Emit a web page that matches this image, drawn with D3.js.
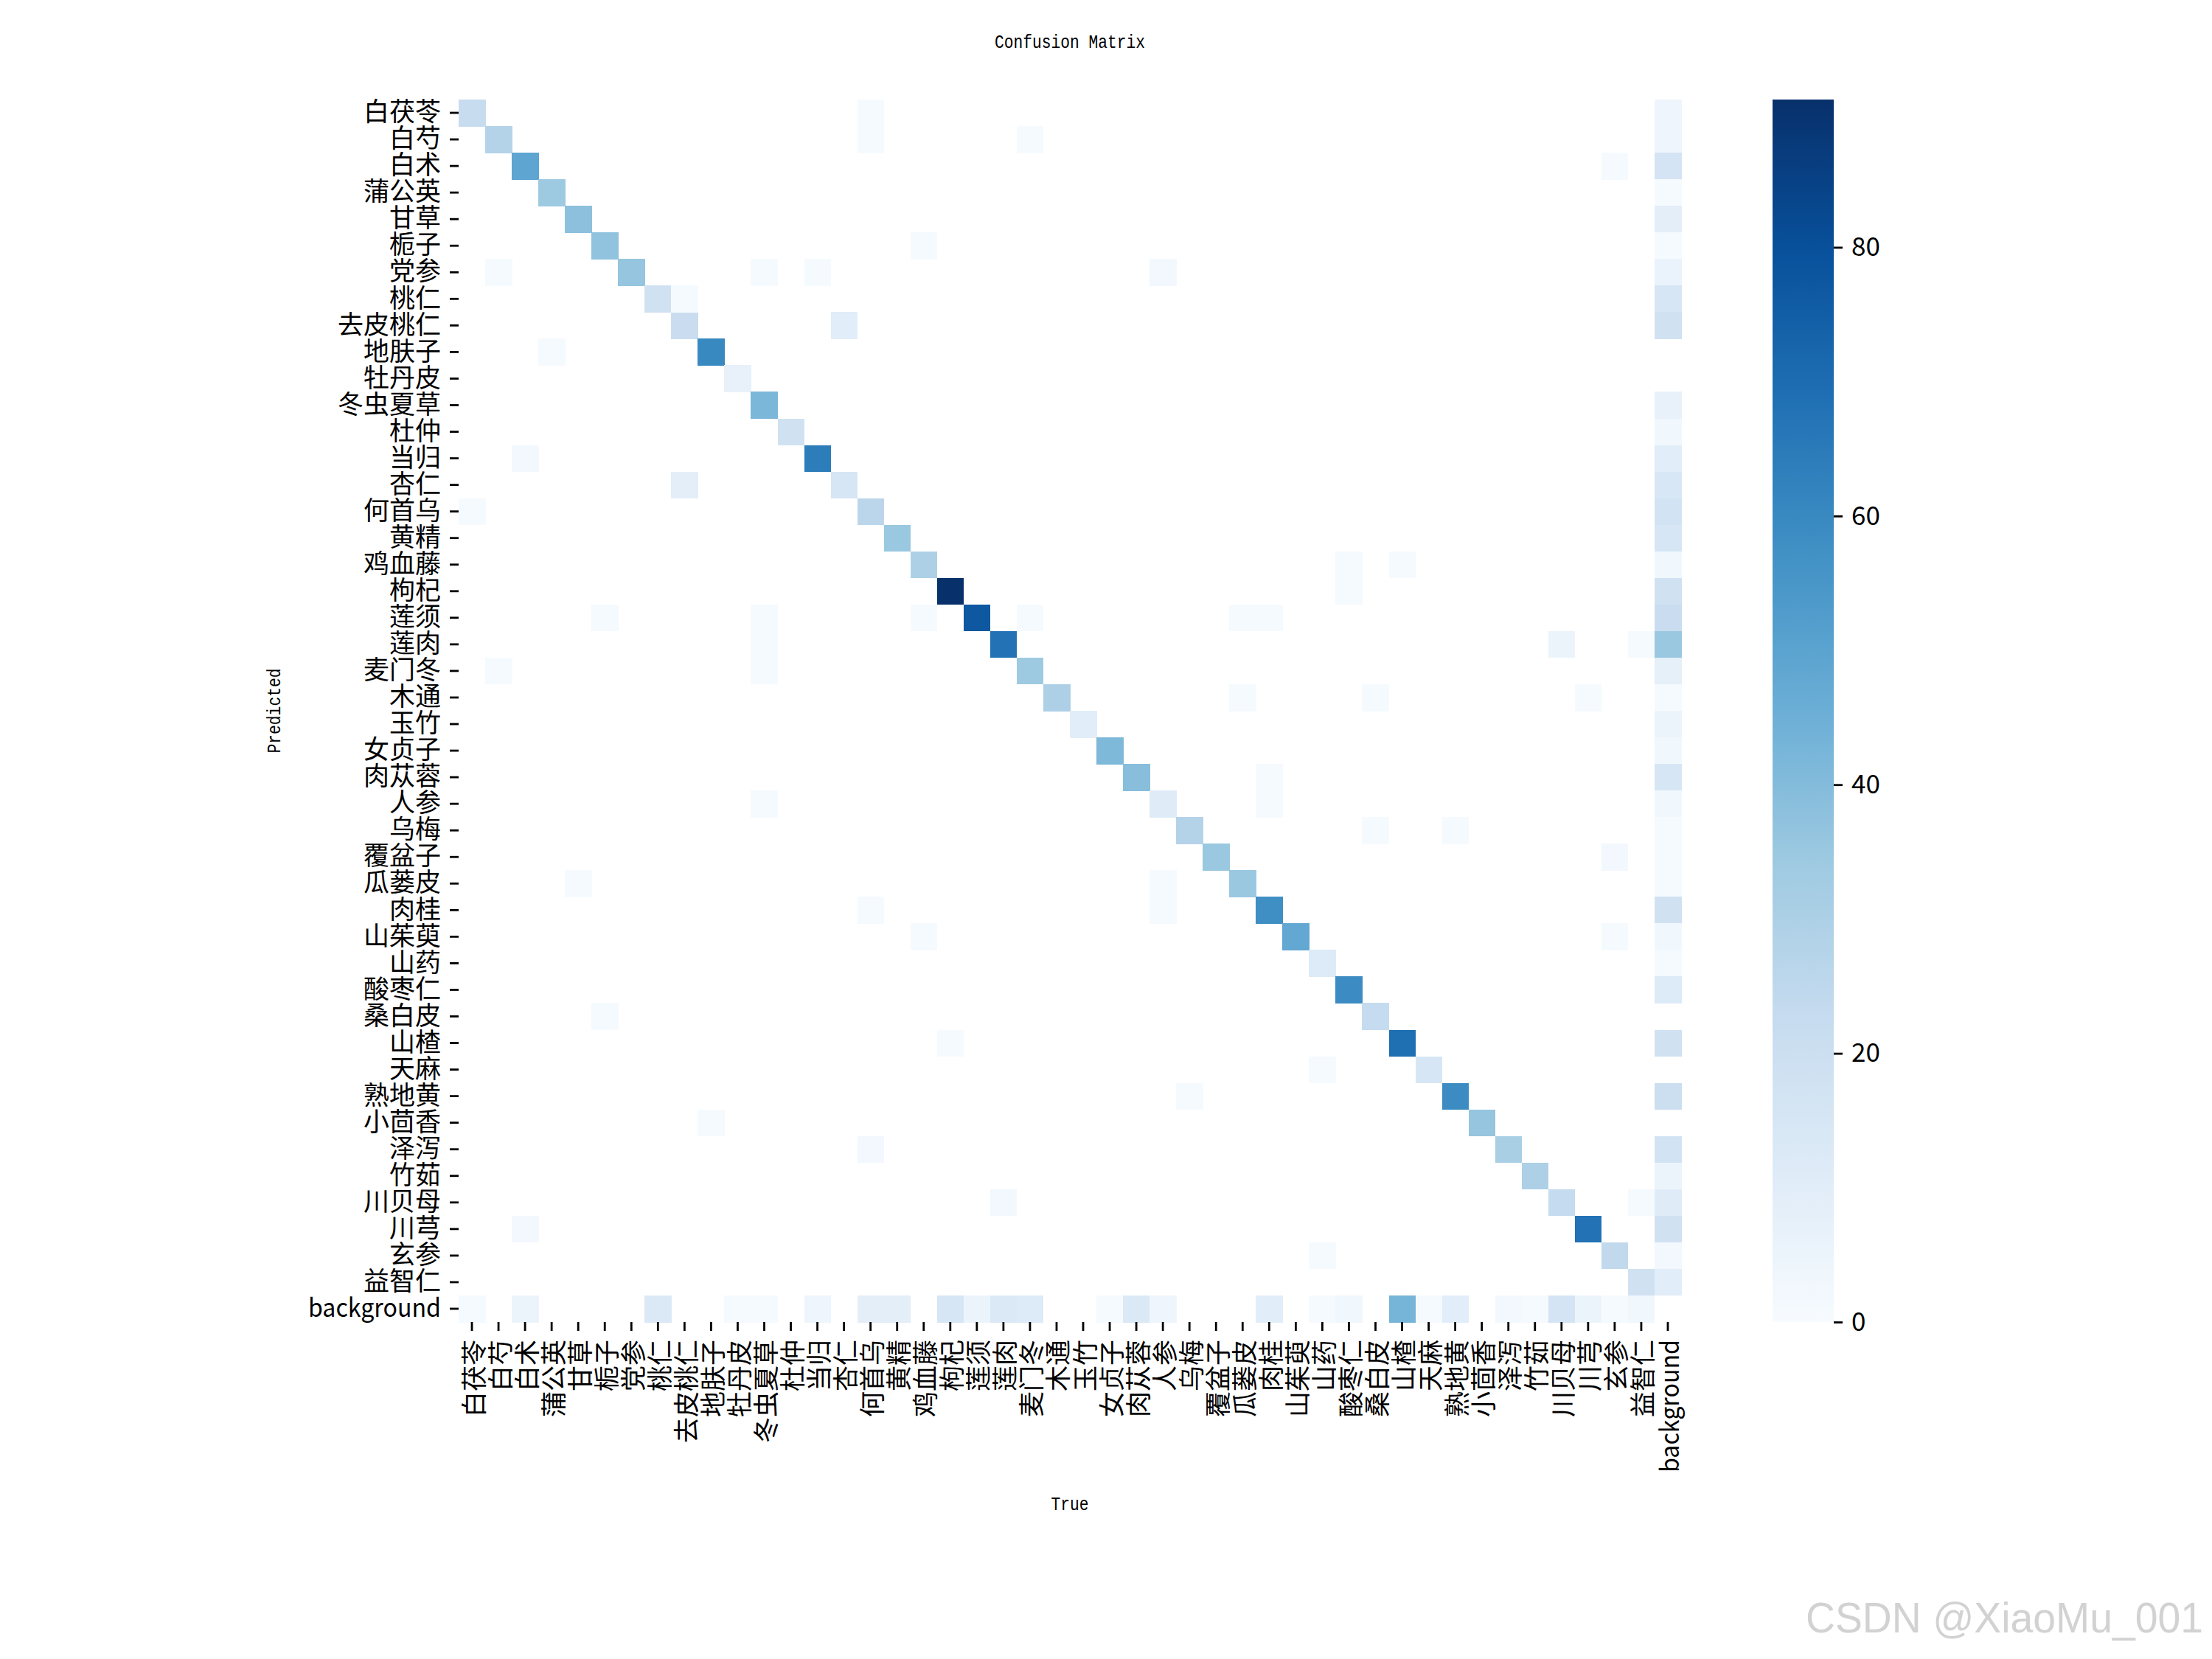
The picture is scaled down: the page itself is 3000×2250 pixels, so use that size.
<!DOCTYPE html>
<html>
<head>
<meta charset="utf-8">
<script src="https://cdn.jsdelivr.net/npm/d3@7"></script>
<style>
  html, body { margin: 0; padding: 0; background: #ffffff; }
  svg { display: block; }
</style>
</head>
<body>
<script>
// ---------------- DATA ----------------
const categories = ["白茯苓","白芍","白术","蒲公英","甘草","栀子","党参","桃仁","去皮桃仁","地肤子",
  "牡丹皮","冬虫夏草","杜仲","当归","杏仁","何首乌","黄精","鸡血藤","枸杞","莲须",
  "莲肉","麦门冬","木通","玉竹","女贞子","肉苁蓉","人参","乌梅","覆盆子","瓜蒌皮",
  "肉桂","山茱萸","山药","酸枣仁","桑白皮","山楂","天麻","熟地黄","小茴香","泽泻",
  "竹茹","川贝母","川芎","玄参","益智仁","background"];

// correct predictions (Predicted i, True i), classes 0..44
const diagonal = [22,28,49,34,38,37,36,18,21,60, 7,42,18,64,15,26,35,30,91,77,
  68,34,30,10,41,39,11,28,35,35, 58,48,12,59,23,69,15,59,36,31, 30,23,68,24,18];

// last column: predicted class i, true = background (rows 0..44)
const backgroundColumn = [4,4,16,1,9,1,6,15,18,0, 0,7,3,10,14,17,15,3,18,21,
  35,8,1,5,3,15,3,1,1,1, 18,3,1,12,0,18,0,20,0,17, 5,11,18,2,10];

// last row: predicted background, true class j (cols 0..44)
const backgroundRow = [1,0,5,0,0,0,0,13,0,0, 1,1,0,4,0,9,9,0,15,5,
  13,12,0,0,1,13,4,0,0,0, 10,0,1,3,0,43,1,10,0,2, 1,16,5,1,3];

// other confusions: [predicted row, true column, count]
const offDiagonal = [
  [0,15,1],[1,15,1],[1,21,1],[2,43,1],[5,17,1],[6,1,1],[6,11,1],[6,13,1],[6,26,2],
  [7,8,1],[8,14,10],[9,3,1],[13,2,2],[14,8,9],[15,0,1],[17,33,1],[17,35,1],[18,33,1],
  [19,5,1],[19,11,1],[19,17,1],[19,21,1],[19,29,1],[19,30,1],[20,11,1],[20,41,5],[20,44,1],
  [21,1,1],[21,11,1],[22,29,1],[22,34,1],[22,42,1],[25,30,1],[26,11,1],[26,30,1],
  [27,34,1],[27,37,1],[28,43,2],[29,4,1],[29,26,1],[30,15,1],[30,26,1],[31,17,1],[31,43,1],
  [34,5,1],[35,18,1],[36,32,1],[37,27,1],[38,9,1],[39,15,2],[41,20,2],[41,44,1],[42,2,2],[43,32,1]
];

const colorbarTicks = [0,20,40,60,80];
const blues = ["#f7fbff","#deebf7","#c6dbef","#9ecae1","#6baed6","#4292c6","#2171b5","#08519c","#08306b"];

(function draw() {
  // ---------------- BUILD MATRIX ----------------
  const n = categories.length;
  const cells = [];
  diagonal.forEach((v,i) => cells.push({r:i, c:i, v}));
  backgroundColumn.forEach((v,i) => cells.push({r:i, c:n-1, v}));
  backgroundRow.forEach((v,j) => cells.push({r:n-1, c:j, v}));
  offDiagonal.forEach(([r,c,v]) => cells.push({r, c, v}));
  const nonZero = cells.filter(d => d.v > 0);
  const vmax = d3.max(nonZero, d => d.v);

  // ---------------- LAYOUT ----------------
  const W = 3000, H = 2250;
  const mLeft = 622, mRight = 2280, mTop = 135, mBottom = 1793;
  const cbLeft = 2404, cbRight = 2487;
  const cjk = "'Noto Sans CJK SC', 'Noto Sans', sans-serif";
  const mono = "'Liberation Mono', 'DejaVu Sans Mono', monospace";

  const svg = d3.select("body").append("svg").attr("width", W).attr("height", H)
    .style("background", "#fff");

  const x = d3.scaleBand().domain(d3.range(n)).range([mLeft, mRight]);
  const y = d3.scaleBand().domain(d3.range(n)).range([mTop, mBottom]);
  const color = d3.scaleLinear()
    .domain(blues.map((_, i) => i / (blues.length - 1) * vmax))
    .range(blues)
    .interpolate(d3.interpolateRgb)
    .clamp(true);

  // cells
  svg.append("g").selectAll("rect").data(nonZero).join("rect")
    .attr("x", d => x(d.c))
    .attr("y", d => y(d.r))
    .attr("width", x.bandwidth() + 0.5)
    .attr("height", y.bandwidth() + 0.5)
    .attr("fill", d => color(d.v))
    .attr("shape-rendering", "crispEdges");

  // y axis
  const yAxis = svg.append("g").attr("transform", `translate(${mLeft},0)`)
    .call(d3.axisLeft(y).tickFormat(i => categories[i]).tickSize(12).tickPadding(12));
  yAxis.select(".domain").remove();
  yAxis.selectAll(".tick line").attr("stroke", "#000").attr("stroke-width", 2.8);
  yAxis.selectAll(".tick text").attr("font-family", cjk).attr("font-size", 35).attr("fill", "#000")
    .filter(i => i === n - 1)
    .attr("textLength", 180).attr("lengthAdjust", "spacingAndGlyphs");

  // x axis
  const xAxis = svg.append("g").attr("transform", `translate(0,${mBottom})`)
    .call(d3.axisBottom(x).tickFormat(i => categories[i]).tickSize(12).tickPadding(12));
  xAxis.select(".domain").remove();
  xAxis.selectAll(".tick line").attr("stroke", "#000").attr("stroke-width", 2.8);
  xAxis.selectAll(".tick text")
    .attr("font-family", cjk).attr("font-size", 35).attr("fill", "#000")
    .attr("text-anchor", "end")
    .attr("dy", null)
    .attr("y", 0)
    .attr("dominant-baseline", "central")
    .attr("transform", "translate(0,24) rotate(-90)")
    .filter(i => i === n - 1)
    .attr("textLength", 180).attr("lengthAdjust", "spacingAndGlyphs");

  // colorbar
  const defs = svg.append("defs");
  const grad = defs.append("linearGradient").attr("id", "cbgrad")
    .attr("x1", 0).attr("y1", 1).attr("x2", 0).attr("y2", 0);
  d3.range(0, 101).forEach(k => {
    grad.append("stop").attr("offset", k / 100).attr("stop-color", color(k / 100 * vmax));
  });
  svg.append("rect").attr("x", cbLeft).attr("y", mTop)
    .attr("width", cbRight - cbLeft).attr("height", mBottom - mTop)
    .attr("fill", "url(#cbgrad)");
  const cbScale = d3.scaleLinear().domain([0, vmax]).range([mBottom, mTop]);
  const cbAxis = svg.append("g").attr("transform", `translate(${cbRight},0)`)
    .call(d3.axisRight(cbScale).tickValues(colorbarTicks).tickSize(12).tickPadding(12));
  cbAxis.select(".domain").remove();
  cbAxis.selectAll(".tick line").attr("stroke", "#000").attr("stroke-width", 2.8);
  cbAxis.selectAll(".tick text").attr("font-family", cjk).attr("font-size", 35).attr("fill", "#000");

  // titles
  svg.append("text").attr("x", (mLeft + mRight) / 2).attr("y", 65)
    .attr("text-anchor", "middle").attr("font-family", mono).attr("font-size", 25)
    .attr("textLength", 204).attr("lengthAdjust", "spacingAndGlyphs")
    .text("Confusion Matrix");
  svg.append("text").attr("transform", `translate(380,${(mTop + mBottom) / 2}) rotate(-90)`)
    .attr("text-anchor", "middle").attr("font-family", mono).attr("font-size", 25)
    .attr("textLength", 115).attr("lengthAdjust", "spacingAndGlyphs")
    .text("Predicted");
  svg.append("text").attr("x", (mLeft + mRight) / 2).attr("y", 2048)
    .attr("text-anchor", "middle").attr("font-family", mono).attr("font-size", 25)
    .attr("textLength", 51).attr("lengthAdjust", "spacingAndGlyphs")
    .text("True");

  // watermark
  svg.append("text").attr("x", 2988).attr("y", 2214)
    .attr("text-anchor", "end").attr("font-family", "'Liberation Sans', Arial, sans-serif")
    .attr("font-size", 58).attr("fill", "#d2d2d2")
    .attr("textLength", 539).attr("lengthAdjust", "spacingAndGlyphs")
    .text("CSDN @XiaoMu_001");
})();
</script>
</body>
</html>
